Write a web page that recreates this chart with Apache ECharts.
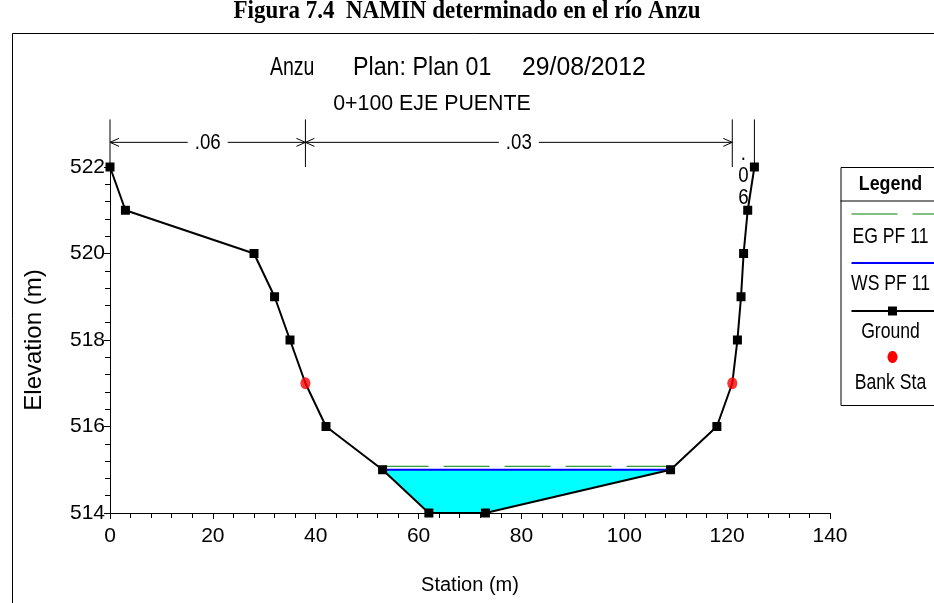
<!DOCTYPE html>
<html>
<head>
<meta charset="utf-8">
<script src="https://cdn.jsdelivr.net/npm/echarts@6/dist/echarts.min.js"></script>
<style>
  html, body { margin: 0; padding: 0; background: #fff; }
  #chart { width: 934px; height: 603px; }
</style>
</head>
<body>
<div id="chart"></div>
<script>
// ground profile (station m, elevation m)
var groundStation = [0, 3, 28, 32, 35, 38, 42, 53, 62, 73, 109, 118, 121, 122, 122.7, 123.2, 124, 125.3];
var groundElev    = [522, 521, 520, 519, 518, 517, 516, 515, 514, 514, 515, 516, 517, 518, 519, 520, 521, 522];
var bankStation = [38, 121];
var bankElev    = [517, 517];
// water surface and energy grade
var wsStation = [53, 109];
var wsElev = 515.0;
var egElev = 515.08;
// manning n regions
var nBreaks = [0, 38, 121, 125.3];
var nValues = ['.06', '.03', '.06'];
var xTicks = [0, 140, 20];
var yTicks = [514, 522, 2];

var sans = "'Liberation Sans', Arial, sans-serif";
var chart = echarts.init(document.getElementById('chart'));

// ground data, bank points carry no square
var groundData = [];
for (var i = 0; i < groundStation.length; i++) {
    var item = { value: [groundStation[i], groundElev[i]] };
    if (bankStation.indexOf(groundStation[i]) >= 0) item.symbol = 'none';
    groundData.push(item);
}
var bankData = [];
for (var j = 0; j < bankStation.length; j++) bankData.push([bankStation[j], bankElev[j]]);

// wetted polygon: ground points between the WS ends
var waterPoly = [];
for (var k = 0; k < groundStation.length; k++) {
    if (groundStation[k] >= wsStation[0] && groundStation[k] <= wsStation[1]) {
        waterPoly.push([groundStation[k], Math.min(groundElev[k], wsElev)]);
    }
}

function vArrow(x, y, dir) {
    // open arrow head, dir = -1 pointing left, 1 pointing right
    return { type: 'polyline', shape: { points: [[x - dir * 9, y - 4], [x, y], [x - dir * 9, y + 4]] },
             style: { stroke: '#000', fill: null, lineWidth: 1 } };
}

function label(txt, x, y, size, sx, align, bold) {
    return { type: 'text', x: x, y: y, scaleX: sx,
             style: { text: txt, x: 0, y: 0, align: align || 'center', verticalAlign: 'middle',
                      font: (bold ? 'bold ' : '') + size + 'px ' + sans, fill: '#000' } };
}

var option = {
    animation: false,
    backgroundColor: '#fff',
    grid: { left: 110, right: 104, top: 167, bottom: 90 },
    xAxis: {
        type: 'value', min: xTicks[0], max: xTicks[1], interval: xTicks[2],
        name: 'Station (m)', nameLocation: 'middle', nameGap: 62,
        nameTextStyle: { fontFamily: sans, fontSize: 20, color: '#000' },
        axisLine: { onZero: false, lineStyle: { color: '#000', width: 1 } },
        axisTick: { length: 6, lineStyle: { color: '#000' } },
        minorTick: { show: true, splitNumber: 5, length: 5, lineStyle: { color: '#000' } },
        splitLine: { show: false },
        axisLabel: { fontFamily: sans, fontSize: 21, color: '#000', margin: 13 }
    },
    yAxis: {
        type: 'value', min: yTicks[0], max: yTicks[1], interval: yTicks[2],
        name: 'Elevation (m)', nameLocation: 'middle', nameGap: 64, nameRotate: 90,
        nameTextStyle: { fontFamily: sans, fontSize: 24, color: '#000' },
        axisLine: { show: true, onZero: false, lineStyle: { color: '#000', width: 1 } },
        axisTick: { length: 6, lineStyle: { color: '#000' } },
        minorTick: { show: true, splitNumber: 5, length: 5, lineStyle: { color: '#000' } },
        splitLine: { show: false },
        axisLabel: { fontFamily: sans, fontSize: 21, color: '#000', margin: 5 }
    },
    series: [
        {
            name: 'water', type: 'custom', z: 1,
            data: [0],
            renderItem: function (params, api) {
                var pts = [];
                for (var i = 0; i < waterPoly.length; i++) pts.push(api.coord(waterPoly[i]));
                return { type: 'polygon', shape: { points: pts }, style: { fill: '#00ffff', stroke: null } };
            }
        },
        {
            name: 'EG PF 11', type: 'line', z: 2, symbol: 'none',
            data: [[wsStation[0], egElev], [wsStation[1], egElev]],
            lineStyle: { color: '#008000', width: 1, type: [46, 15] }
        },
        {
            name: 'WS PF 11', type: 'line', z: 3, symbol: 'none',
            data: [[wsStation[0], wsElev], [wsStation[1], wsElev]],
            lineStyle: { color: '#0000ff', width: 2 }
        },
        {
            name: 'Ground', type: 'line', z: 4,
            symbol: 'rect', symbolSize: 9,
            itemStyle: { color: '#000' },
            lineStyle: { color: '#000', width: 2 },
            data: groundData
        },
        {
            name: 'Bank Sta', type: 'scatter', z: 5,
            symbol: 'circle', symbolSize: [10, 12],
            itemStyle: { color: '#ff0000' },
            data: bankData
        },
        {
            name: 'n values', type: 'custom', z: 6, clip: false,
            data: [0],
            renderItem: function (params, api) {
                var top = api.coord([0, 523.1])[1];
                var base = api.coord([0, 522])[1];
                var yArrow = api.coord([0, 522.57])[1];
                var kids = [];
                for (var i = 0; i < nBreaks.length; i++) {
                    var x = api.coord([nBreaks[i], 522])[0];
                    kids.push({ type: 'line', shape: { x1: x, y1: top, x2: x, y2: base },
                                style: { stroke: '#000', lineWidth: 1 } });
                }
                for (var r = 0; r < nValues.length; r++) {
                    var x1 = api.coord([nBreaks[r], 522])[0];
                    var x2 = api.coord([nBreaks[r + 1], 522])[0];
                    var mid = (x1 + x2) / 2;
                    if (x2 - x1 > 60) {
                        kids.push({ type: 'line', shape: { x1: x1, y1: yArrow, x2: mid - 20, y2: yArrow }, style: { stroke: '#000', lineWidth: 1 } });
                        kids.push({ type: 'line', shape: { x1: mid + 20, y1: yArrow, x2: x2, y2: yArrow }, style: { stroke: '#000', lineWidth: 1 } });
                        kids.push(vArrow(x1, yArrow, -1));
                        kids.push(vArrow(x2, yArrow, 1));
                        kids.push({ type: 'text', x: mid, y: yArrow + 1, scaleX: 0.85,
                                    style: { text: nValues[r], x: 0, y: 0, align: 'center', verticalAlign: 'middle',
                                    font: '22px ' + sans, fill: '#000' } });
                    } else {
                        kids.push({ type: 'text', x: mid, y: yArrow + 1, scaleX: 0.85,
                                    style: { text: nValues[r].split('').join('\n'), x: 0, y: 0,
                                    align: 'center', verticalAlign: 'top', lineHeight: 22,
                                    font: '22px ' + sans, fill: '#000' } });
                    }
                }
                return { type: 'group', children: kids };
            }
        }
    ],
    graphic: [
        { type: 'rect', left: 10, top: 31, shape: { width: 940, height: 590 }, style: { fill: null, stroke: '#000', lineWidth: 1 }, z: -1 },
        { type: 'text', x: 467, y: 12, scaleX: 0.92,
          style: { text: 'Figura 7.4  NAMIN determinado en el río Anzu', x: 0, y: 0, align: 'center', verticalAlign: 'middle',
                   font: "bold 25px 'Liberation Serif', 'Times New Roman', serif", fill: '#000' } },
        label('Anzu', 270, 68, 25, 0.78, 'left'),
        label('Plan: Plan 01', 353, 68, 25, 0.93, 'left'),
        label('29/08/2012', 522, 68, 25, 0.99, 'left'),
        label('0+100 EJE PUENTE', 432, 104, 22, 0.97),
        {
            type: 'group', left: 838, top: 167,
            children: [
                { type: 'rect', shape: { x: 0.5, y: 0.5, width: 110, height: 238 }, style: { fill: '#fff', stroke: '#000', lineWidth: 1 } },
                { type: 'line', shape: { x1: 0, y1: 34, x2: 110, y2: 34 }, style: { stroke: '#000', lineWidth: 1 } },
                label('Legend', 50, 17, 21, 0.85, 'center', true),
                { type: 'line', shape: { x1: 11, y1: 47, x2: 94, y2: 47 }, style: { stroke: '#008000', lineWidth: 1, lineDash: [46, 15] } },
                label('EG PF 11', 50, 70, 22, 0.8),
                { type: 'line', shape: { x1: 11, y1: 96, x2: 94, y2: 96 }, style: { stroke: '#0000ff', lineWidth: 2 } },
                label('WS PF 11', 50, 117, 22, 0.8),
                { type: 'line', shape: { x1: 11, y1: 144, x2: 94, y2: 144 }, style: { stroke: '#000', lineWidth: 2 } },
                { type: 'rect', shape: { x: 47.5, y: 139.5, width: 9, height: 9 }, style: { fill: '#000' } },
                label('Ground', 50, 165, 22, 0.8),
                { type: 'ellipse', shape: { cx: 52, cy: 190, rx: 5, ry: 6 }, style: { fill: '#ff0000' } },
                label('Bank Sta', 50, 216, 22, 0.8)
            ]
        }
    ]
};
chart.setOption(option);
</script>
</body>
</html>
